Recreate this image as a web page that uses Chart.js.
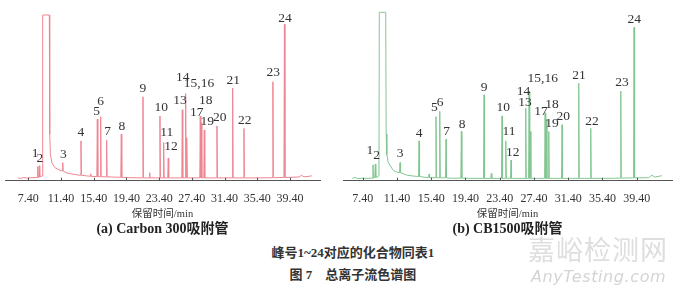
<!DOCTYPE html>
<html>
<head>
<meta charset="utf-8">
<script src="https://cdn.jsdelivr.net/npm/chart.js@4.4.1/dist/chart.umd.min.js"></script>
<style>
  body { margin: 0; background: #fff; width: 680px; height: 288px; position: relative; overflow: hidden; }
  canvas { position: absolute; top: 0; }
  #panelA { left: 0; }
  #panelB { left: 340px; }
  .cap { position: absolute; left: 0; width: 706px; text-align: center; font-family: "Liberation Serif", "Noto Sans CJK SC"; font-weight: bold; font-size: 13px; line-height: 16px; color: #333; }
  .wm1 { position: absolute; left: 528px; top: 233px; font-family: "Noto Sans CJK SC"; font-size: 27px; line-height: 32px; color: #dedede; letter-spacing: 1px; }
  .wm2 { position: absolute; left: 531px; top: 267px; font-family: "DejaVu Sans"; font-style: italic; font-size: 16px; line-height: 20px; color: #d4d4d4; letter-spacing: 0.6px; }
</style>
</head>
<body>
<canvas id="panelA" width="340" height="240"></canvas>
<canvas id="panelB" width="340" height="240"></canvas>
<div class="cap" style="top:245px">峰号1~24对应的化合物同表1</div>
<div class="cap" style="top:267px">图 7&nbsp;&nbsp;&nbsp;&nbsp;总离子流色谱图</div>
<div class="wm1">嘉峪检测网</div>
<div class="wm2">AnyTesting.com</div>
<script>
"use strict"

// x axis ticks (min)
const tickValues = [7.40, 11.40, 15.40, 19.40, 23.40, 27.40, 31.40, 35.40, 39.40]
const peakNames = ["1", "2", "3", "4", "5", "6", "7", "8", "9", "10", "11", "12", "13", "14", "15,16", "17", "18", "19", "20", "21", "22", "23", "24"]

// (a) Carbon 300 - peak retention time, apex, foot
const timesA = [8.55, 8.74, 11.61, 13.84, 15.84, 16.25, 16.98, 18.77, 21.42, 23.50, 23.95, 24.51, 26.23, 26.64, 26.80, 28.43, 28.56, 28.92, 30.47, 32.39, 33.77, 37.31, 38.72]
const heightsA = [15, 16, 19.4, 42.7, 66, 68.7, 43.4, 50, 90, 69.4, 41, 24.4, 76, 93.4, 46, 69.4, 62, 54.4, 58.7, 99.4, 56, 106, 167.7]
const feetA = [3.5, 4, 10.5, 5.8, 4.4, 4.3, 4.1, 3.6, 3, 3, 3, 3, 3, 3, 3, 3, 3, 3, 3, 3, 3, 3.2, 3.5]
// baseline + solvent peak (clipped) + small bumps
const baseTimesA = [6.14, 6.45, 6.8, 7.2, 7.7, 8.3, 8.9, 9.10, 9.16, 9.97, 10.02, 10.10, 10.3, 10.66, 11.27, 12.0, 12.5, 13.2, 14.5, 14.97, 15.03, 15.09, 17.8, 19.8, 20.8, 22.18, 22.24, 22.30, 23.0, 25.3, 27.5, 29.7, 31.4, 33.0, 35.0, 36.5, 39.5, 40.5, 40.8, 41.1, 41.6, 42.07]
const baseHeightsA = [3, 2.4, 3.4, 2.8, 3.2, 3.4, 4.5, 5, 177.7, 177.7, 50, 28, 19, 14, 11.2, 8.7, 7.5, 6.5, 5.2, 4.8, 7.5, 4.7, 3.9, 3.3, 3.1, 3, 8.7, 3, 3, 3, 3, 3, 3, 3, 3, 3.1, 3.6, 4, 5.8, 4.2, 4.6, 5.2]

// (b) CB1500
const timesB = [8.60, 8.87, 11.76, 13.98, 15.96, 16.40, 17.13, 18.92, 21.57, 23.67, 24.11, 24.72, 26.44, 26.83, 26.98, 28.70, 28.85, 29.13, 30.68, 32.63, 34.03, 37.54, 39.09]
const heightsB = [17, 17.7, 19.4, 42.7, 68.7, 74.4, 44.4, 52.7, 92, 69.4, 42.7, 22, 77.7, 96, 52.7, 72.7, 66, 52.7, 60, 104.4, 56, 96, 164.4]
const feetB = [2.8, 3.5, 8.5, 4.5, 3.2, 3.1, 3, 2.8, 2.5, 2.5, 2.5, 2.5, 2.5, 2.5, 2.5, 2.5, 2.5, 2.5, 2.5, 2.5, 2.5, 2.8, 3]
const baseTimesB = [6.19, 6.5, 6.8, 7.3, 7.9, 8.45, 9.1, 9.30, 9.34, 10.09, 10.14, 10.22, 10.39, 10.97, 11.4, 12.54, 13.3, 14.88, 15.09, 15.15, 15.21, 17.9, 20.0, 22.36, 22.42, 22.48, 23.2, 25.5, 27.7, 30.0, 31.8, 33.3, 35.5, 36.8, 39.8, 40.8, 41.16, 41.5, 42.33]
const baseHeightsB = [2.5, 3.5, 2.2, 2.6, 2.4, 2.8, 4, 5, 180.4, 180.4, 50, 28, 19.4, 11, 9.2, 6, 5, 3.4, 3.3, 7, 3.2, 2.6, 2.5, 2.5, 7.7, 2.5, 2.5, 2.5, 2.5, 2.5, 2.5, 2.5, 2.5, 2.6, 3, 3.2, 6, 3.8, 5.4]

// label placement (px offset from apex)
const offsetsA = [[-2.7, -13.4], [0.7, -7.4], [0.6, -8.3], [0, -8.3], [-0.6, -7.7], [0, -14.7], [1, -8.6], [0.7, -7.7], [0, -8.4], [1.3, -9], [3, -10], [2.7, -11.6], [-2.3, -9], [-3, -16.6], [12, -54], [-3.6, -4], [4.3, -22.4], [3, -8.3], [2.7, -9], [0.6, -8], [0.7, -8], [0.3, -9], [0.5, -6]]
const offsetsB = [[-3, -14], [1.4, -8.3], [0, -9], [0, -7.7], [-1.7, -9], [0.3, -8.3], [0.7, -8.3], [0.7, -7.3], [0, -7.4], [1.3, -8.3], [3.3, -9.3], [1.7, -8], [-0.7, -6], [-5.7, 0], [12.4, -52.7], [-4, -1], [5.7, -15], [3.3, -8.3], [1.3, -8.4], [0.3, -7.6], [1.3, -7.4], [1.3, -8.4], [0.3, -7.3]]

const serif = '"Liberation Serif", "Noto Sans CJK SC"'

function buildTrace(times, heights, feet, baseT, baseH) {
    let pts = baseT.map((t, i) => ({ x: t, y: baseH[i] }))
    times.forEach((t, i) => {
        pts.push({ x: t - 0.06, y: feet[i] }, { x: t, y: heights[i] }, { x: t + 0.06, y: feet[i] })
    })
    return pts.sort((a, b) => a.x - b.x)
}

const peakLabels = {
    id: "peakLabels",
    afterDraw(chart, args, opts) {
        const ctx = chart.ctx
        const x = chart.scales.x, y = chart.scales.y
        ctx.save()
        ctx.font = '13.5px "Liberation Serif"'
        ctx.fillStyle = "#333"
        ctx.textAlign = "center"
        ctx.textBaseline = "middle"
        opts.times.forEach((t, i) => {
            let [dx, dy] = opts.offsets[i]
            ctx.fillText(peakNames[i], x.getPixelForValue(t) + dx, y.getPixelForValue(opts.heights[i]) + dy)
        })
        // inward tick marks
        ctx.strokeStyle = "#555"
        ctx.lineWidth = 1
        tickValues.forEach(v => {
            let px = Math.round(x.getPixelForValue(v)) + 0.5
            ctx.beginPath()
            ctx.moveTo(px, y.bottom)
            ctx.lineTo(px, y.bottom - 3)
            ctx.stroke()
        })
        ctx.restore()
    }
}

function makePanel(id, color, trace, xMin, xMax, yMax, pad, title, labelOpts) {
    return new Chart(document.getElementById(id), {
        type: "line",
        data: {
            datasets: [{
                data: trace,
                borderColor: color,
                borderWidth: 1,
                pointRadius: 0,
                tension: 0,
                clip: false
            }]
        },
        options: {
            responsive: false,
            animation: false,
            parsing: false,
            layout: { padding: pad },
            scales: {
                x: {
                    type: "linear",
                    min: xMin,
                    max: xMax,
                    afterBuildTicks: s => { s.ticks = tickValues.map(v => ({ value: v })) },
                    ticks: {
                        callback: v => v.toFixed(2),
                        font: { family: serif, size: 12, lineHeight: 1 },
                        color: "#333",
                        padding: 4,
                        maxRotation: 0,
                        autoSkip: false
                    },
                    grid: { display: false },
                    border: { display: true, color: "#555", width: 1 },
                    title: {
                        display: true,
                        text: "保留时间/min",
                        font: { family: serif, size: 10.5, lineHeight: 1 },
                        color: "#333",
                        padding: { top: 0, bottom: 0 }
                    }
                },
                y: { display: false, min: 0, max: yMax }
            },
            plugins: {
                legend: { display: false },
                tooltip: { enabled: false },
                title: {
                    display: true,
                    position: "bottom",
                    text: title,
                    font: { family: serif, size: 14, weight: "bold", lineHeight: 1.2 },
                    color: "#222",
                    padding: { top: 2, bottom: 2 }
                },
                peakLabels: labelOpts
            }
        },
        plugins: [peakLabels]
    })
}

let chartA = makePanel("panelA", "#ee8592",
    buildTrace(timesA, heightsA, feetA, baseTimesA, baseHeightsA),
    4.55, 43.07, 177.7, { left: 5, right: 20, top: 15, bottom: 0 },
    "(a) Carbon 300吸附管",
    { times: timesA, heights: heightsA, offsets: offsetsA })

let chartB = makePanel("panelB", "#82c691",
    buildTrace(timesB, heightsB, feetB, baseTimesB, baseHeightsB),
    5.10, 43.52, 180.4, { left: 3, right: 8, top: 12.3, bottom: 0 },
    "(b) CB1500吸附管",
    { times: timesB, heights: heightsB, offsets: offsetsB })
</script>
</body>
</html>
